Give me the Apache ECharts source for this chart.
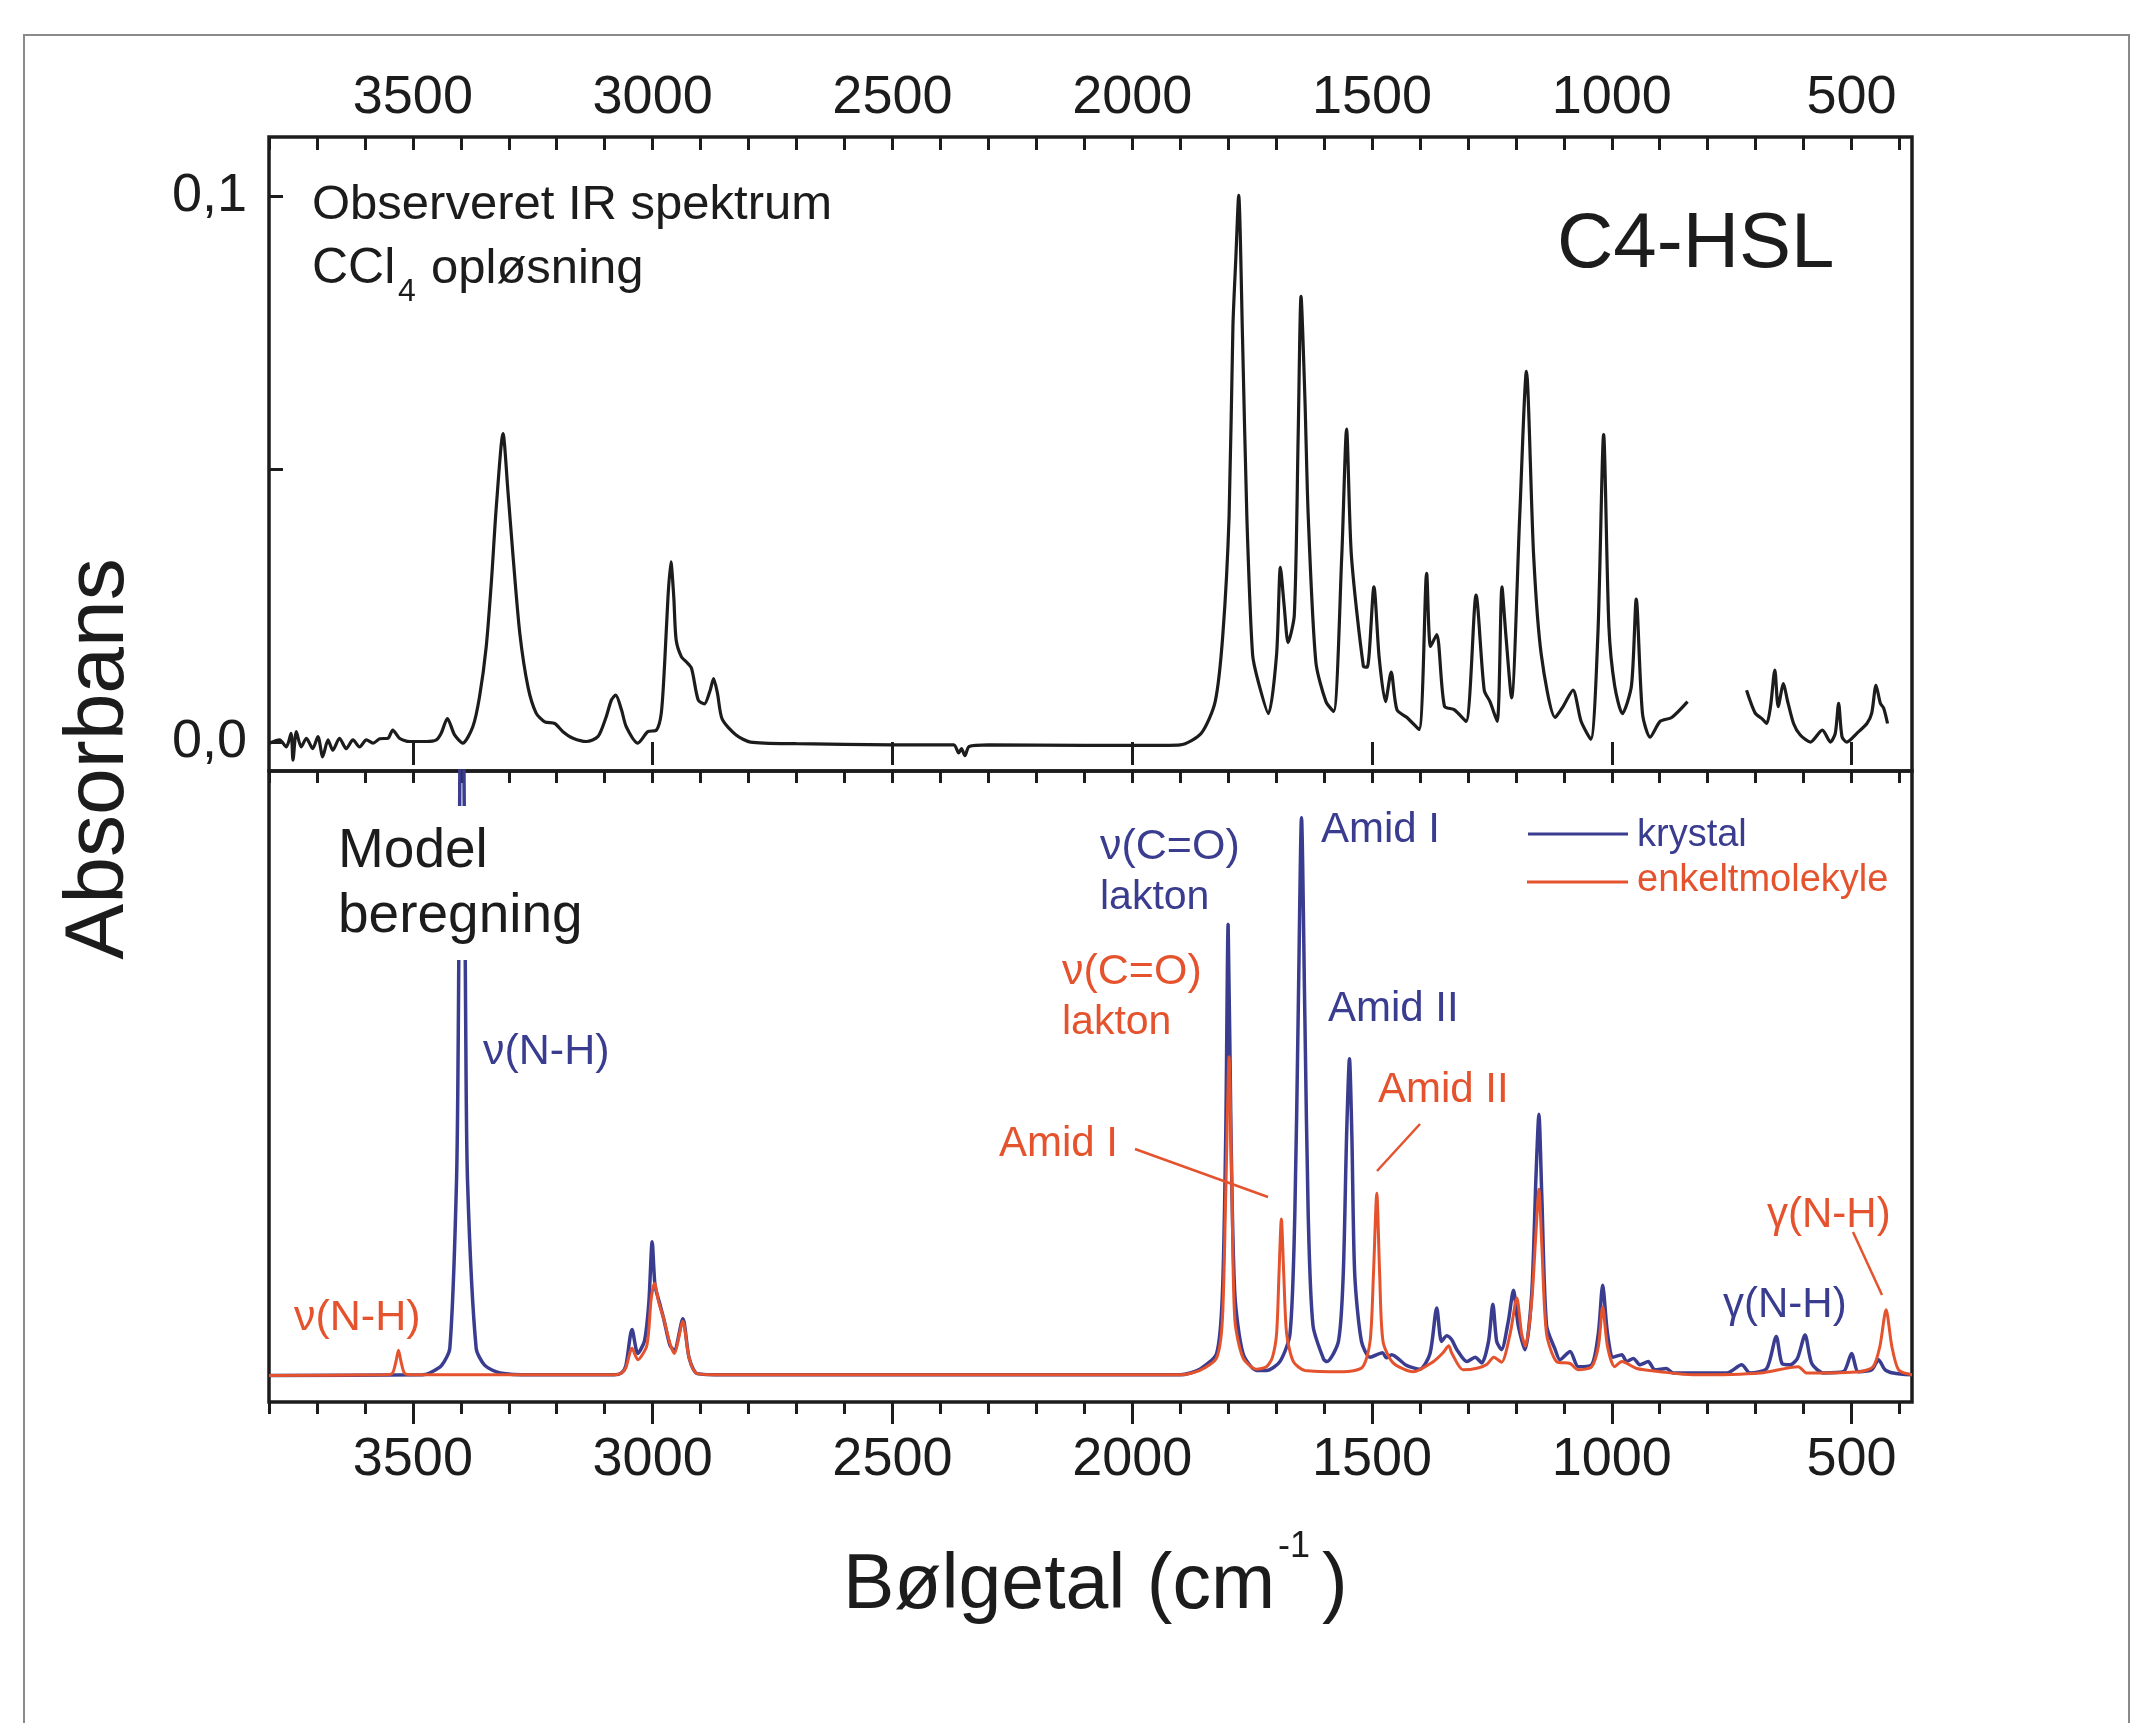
<!DOCTYPE html>
<html>
<head>
<meta charset="utf-8">
<title>C4-HSL IR spektrum</title>
<style>
body{
    margin:0;
    background:#fff;
}
.chart-main{
    width:2135px;
    height:1723px;
}
</style>
</head>
<body>
<div id="main" class="chart-main"></div>
<script src="https://cdn.jsdelivr.net/npm/echarts@6.0.0/dist/echarts.min.js"></script>
<script>
    // tick labels on the wavenumber axes
    var tickLabels = [3500, 3000, 2500, 2000, 1500, 1000, 500];
    var absTicks = [0, 0.05, 0.1];
    var absLabels = [0, 0.1];

    // observed spectrum (CCl4), [wavenumber, absorbance], part before the gap
    var observedHigh = [
        [3799,-0.0002],[3778,0.0004],[3764,-0.0009],[3754,0.0016],[3750,-0.0033],[3743,0.0019],[3733,-0.0009],
        [3722,0.0007],[3709,-0.0012],[3698,0.001],[3688,-0.0027],[3677,0.0004],[3667,-0.0015],[3653,0.0007],
        [3639,-0.0012],[3625,0.0004],[3611,-0.0009],[3597,0.0004],[3583,-0.0002],[3569,0.0006],[3552,0.0007],
        [3542,0.0022],[3528,0.0007],[3507,0.0001],[3472,0.0001],[3451,0.0004],[3441,0.0016],[3428,0.0043],
        [3413,0.0013],[3396,-0.0002],[3375,0.0028],[3361,0.0083],[3347,0.0175],[3336,0.0297],[3326,0.0431],
        [3312,0.0565],[3302,0.0462],[3291,0.0339],[3277,0.0199],[3260,0.0101],[3243,0.0053],[3225,0.0037],
        [3204,0.0034],[3187,0.0019],[3166,0.0007],[3138,0.0001],[3114,0.001],[3097,0.0046],[3086,0.0077],
        [3077,0.0086],[3065,0.0059],[3055,0.0028],[3031,-0.0002],[3010,0.0019],[2992,0.0022],[2982,0.0053],
        [2975,0.0144],[2968,0.0266],[2962,0.033],[2956,0.0266],[2951,0.0187],[2940,0.0156],[2930,0.0147],
        [2919,0.0135],[2905,0.0077],[2892,0.007],[2880,0.0095],[2873,0.0116],[2865,0.009],[2855,0.0042],
        [2826,0.0013],[2796,0.0],[2700,-0.0003],[2500,-0.0005],[2372,-0.0005],[2362,-0.002],[2356,-0.0012],
        [2349,-0.0025],[2340,-0.0008],[2300,-0.0005],[2100,-0.0006],[1963,-0.0006],[1900,-0.0005],
        [1856,0.0016],[1827,0.0074],[1811,0.0197],[1798,0.0414],[1790,0.0762],[1784,0.0885],[1778,0.1001],
        [1770,0.074],[1761,0.0414],[1749,0.016],[1737,0.011],[1716,0.0052],[1699,0.016],[1691,0.032],
        [1683,0.0248],[1675,0.0182],[1662,0.0233],[1654,0.0559],[1648,0.0816],[1640,0.0632],[1633,0.0414],
        [1617,0.0146],[1596,0.0074],[1580,0.0056],[1563,0.0342],[1553,0.0573],[1543,0.0342],[1518,0.0139],
        [1510,0.0137],[1496,0.0284],[1485,0.0154],[1472,0.0074],[1460,0.0128],[1448,0.0059],[1427,0.0045],
        [1402,0.0023],[1386,0.0309],[1378,0.0175],[1365,0.0197],[1349,0.0066],[1328,0.0059],[1304,0.0038],
        [1283,0.0269],[1266,0.0095],[1254,0.0074],[1239,0.0038],[1229,0.0284],[1221,0.0197],[1209,0.0081],
        [1192,0.0414],[1178,0.0679],[1163,0.0342],[1147,0.016],[1118,0.0045],[1101,0.0066],[1081,0.0095],
        [1064,0.0038],[1044,0.0005],[1029,0.0197],[1017,0.0563],[1006,0.0211],[994,0.0103],[978,0.0052],
        [959,0.0103],[949,0.0262],[936,0.0052],[920,0.0009],[899,0.0038],[875,0.0045],[842,0.0074]
    ];
    // observed spectrum after the gap
    var observedLow = [
        [719,0.0095],[701,0.0053],[687,0.0043],[677,0.0034],[669,0.0065],[660,0.0132],[653,0.0065],
        [642,0.0107],[634,0.0077],[621,0.0034],[607,0.0013],[586,0.0],[561,0.0022],[544,0.0],[534,0.0016],
        [527,0.0071],[520,0.001],[510,0.0],[489,0.0016],[468,0.0034],[458,0.0053],[449,0.0104],[440,0.0071],
        [433,0.0062],[425,0.0034]
    ];

    // model calculation, crystal (relative intensity)
    var krystal = [
        [3800,4.2],[3480,4.3],[3465,4.6],[3440,5.8],[3423,8.5],[3409,35],[3405,61.8],[3398,140],[3390,61.8],
        [3386,35],[3368,8.5],[3350,5.8],[3318,4.6],[3250,4.3],[3080,4.3],[3065,4.6],[3056,5.7],[3043,11.5],
        [3031,7.7],[3017,9.7],[3008,15.7],[3001,25.4],[2995,18.4],[2986,15.8],[2977,13.2],[2964,9],[2955,8.2],
        [2937,13.2],[2924,7],[2907,4.5],[2850,4.3],[1900,4.3],[1859,5.2],[1824,7.7],[1812,17.1],[1805,42.2],
        [1800,75.7],[1794,42.2],[1786,17.1],[1769,7.7],[1741,5.0],[1720,5.0],[1692,6.4],[1671,10.8],
        [1661,29.6],[1654,61],[1647,92.6],[1640,61],[1633,29.6],[1623,12.1],[1601,6.8],[1594,6.4],[1570,9.6],
        [1560,20.2],[1553,42.2],[1547,54.4],[1542,42.2],[1536,20.2],[1522,9.6],[1504,7.1],[1478,7.8],
        [1470,7.0],[1459,7.5],[1428,5.8],[1400,5.2],[1379,7.7],[1365,14.9],[1355,9.6],[1344,10.5],[1334,9.9],
        [1323,8.3],[1302,6.4],[1285,7.1],[1271,6.2],[1257,9.6],[1248,15.5],[1240,9.6],[1230,8.3],[1216,12.7],
        [1205,17.7],[1195,12.1],[1181,8.3],[1167,17.1],[1158,35.9],[1152,45.6],[1146,32.8],[1136,12.1],
        [1118,8.3],[1108,6.7],[1087,8.0],[1070,5.6],[1042,5.9],[1028,10.9],[1019,18.5],[1009,10.9],[997,7.1],
        [979,7.5],[969,6.4],[955,6.9],[941,5.9],[924,6.4],[910,5.1],[886,5.3],[872,4.6],[760,4.6],[729,5.9],
        [712,4.6],[677,5.3],[657,10.4],[645,6.1],[628,5.9],[613,6.9],[597,10.6],[583,6.1],[559,4.6],[517,4.8],
        [500,7.7],[486,4.8],[458,5.1],[444,6.7],[430,5.1],[413,4.6],[374,4.3]
    ];

    // model calculation, single molecule
    var enkeltmolekyle = [
        [3800,4.2],[3560,4.3],[3543,4.5],[3535,6.5],[3530,8.2],[3525,6.5],[3517,4.5],[3500,4.3],[3080,4.3],
        [3065,4.6],[3056,5.4],[3043,8.5],[3031,6.7],[3012,9],[3003,16.4],[2996,18.8],[2987,15.7],[2977,13.2],
        [2964,9.3],[2955,7.7],[2937,12.8],[2924,7],[2907,4.5],[2850,4.3],[1900,4.3],[1859,5.0],[1824,7.0],
        [1812,13],[1805,33],[1798,54.7],[1792,33],[1786,13],[1769,7],[1741,5.2],[1720,5.6],[1708,7],
        [1699,10.8],[1694,20.2],[1689,29],[1684,20.2],[1678,10.8],[1664,6.4],[1640,5.0],[1560,4.8],[1520,5.5],
        [1504,9.6],[1497,20.2],[1490,33.1],[1484,20.2],[1477,9.6],[1456,6.2],[1414,4.8],[1372,6.4],[1352,7.8],
        [1340,8.9],[1334,7.8],[1310,5.1],[1279,5.4],[1260,6.0],[1246,7.1],[1230,6.3],[1212,10.8],[1198,16.5],
        [1188,10.8],[1180,8.8],[1167,16],[1158,27],[1152,33.7],[1146,25],[1136,10.8],[1115,6.4],[1087,6.1],
        [1070,5.1],[1042,5.6],[1028,8.8],[1019,15.1],[1009,8.8],[994,5.6],[979,6.4],[948,5.3],[900,4.8],
        [830,4.3],[690,4.6],[611,5.6],[594,4.6],[483,4.8],[455,5.6],[441,8.8],[428,14.6],[416,8.8],[402,5.1],
        [374,4.3]
    ];

    var BLUE = '#3a3d8f';
    var RED = '#e4532d';
    var INK = '#1c1c1c';
    var FONT = '"Liberation Sans", Arial, sans-serif';

    // minor ticks every 100 cm-1
    var minorTicks = [];
    for (var v = 400; v <= 3800; v += 100) minorTicks.push(v);

    /**
     * wavenumber axis; major = long ticks with labels, minor = short ticks only
     */
    function waveAxis(gridIndex, position, inside, ticks, len, labels){
        return {
            type: 'value',
            gridIndex: gridIndex,
            position: position,
            min: 374,
            max: 3800,
            inverse: true,
            axisLine: {show: false},
            splitLine: {show: false},
            axisTick: {
                show: true,
                inside: inside,
                length: len,
                customValues: ticks,
                lineStyle: {color: INK, width: 3}
            },
            axisLabel: {
                show: !!labels,
                customValues: labels || [],
                fontSize: 54,
                fontFamily: FONT,
                color: INK,
                margin: position == 'top' ? 12 : 31,
                formatter: function(value){
                    return String(value);
                }
            }
        };
    }

    function label(text, x, y, color, size, extra){
        var el = {
            type: 'text',
            x: x,
            y: y,
            z: 50,
            style: {
                text: text,
                fill: color,
                fontSize: size,
                fontFamily: FONT,
                textAlign: 'left',
                textVerticalAlign: 'middle',
                align: 'left',
                verticalAlign: 'middle'
            }
        };
        if (extra) {
            for (var k in extra) el[k] = extra[k];
        }
        return el;
    }

    function leader(x1, y1, x2, y2){
        return {
            type: 'line',
            z: 50,
            shape: {x1: x1, y1: y1, x2: x2, y2: y2},
            style: {stroke: RED, lineWidth: 2.5}
        };
    }

    var absTitle = label('Absorbans', 100, 759, INK, 84, {rotation: Math.PI / 2});
    absTitle.style.textAlign = 'center';
    absTitle.style.align = 'center';

    var graphics = [
        // outer frame of the figure
        {type: 'rect', z: 1, shape: {x: 24, y: 35, width: 2105, height: 1760},
            style: {fill: 'none', stroke: '#8a8a8a', lineWidth: 2}},
        label('Observeret IR spektrum', 312, 205, INK, 49),
        label('CCl', 312, 269, INK, 50),
        label('4', 398, 292, INK, 32),
        label('opløsning', 431, 269, INK, 49),
        label('C4-HSL', 1557, 245, INK, 78),
        // white patch behind "Model beregning" hides the top of the clipped peak (own layer on top)
        {type: 'rect', zlevel: 1, z: 90, shape: {x: 328, y: 806, width: 270, height: 154},
            style: {fill: '#fff'}},
        label('Model', 338, 852, INK, 55, {zlevel: 1, z: 100}),
        label('beregning', 338, 917, INK, 55, {zlevel: 1, z: 100}),
        label('ν(N-H)', 483, 1052, BLUE, 43),
        label('ν(N-H)', 294, 1318, RED, 43),
        label('ν(C=O)', 1100, 847, BLUE, 43),
        label('lakton', 1100, 898, BLUE, 41),
        label('ν(C=O)', 1062, 972, RED, 43),
        label('lakton', 1062, 1023, RED, 41),
        label('Amid I', 999, 1144, RED, 42),
        leader(1135, 1149, 1268, 1197),
        label('Amid I', 1321, 830, BLUE, 42),
        label('Amid II', 1328, 1009, BLUE, 42),
        label('Amid II', 1378, 1090, RED, 42),
        leader(1420, 1124, 1377, 1171),
        label('γ(N-H)', 1723, 1305, BLUE, 42),
        label('γ(N-H)', 1767, 1215, RED, 42),
        leader(1853, 1232, 1882, 1295),
        // legend
        {type: 'line', z: 50, shape: {x1: 1528, y1: 834, x2: 1628, y2: 834}, style: {stroke: BLUE, lineWidth: 3}},
        label('krystal', 1637, 836, BLUE, 38),
        {type: 'line', z: 50, shape: {x1: 1527, y1: 882, x2: 1628, y2: 882}, style: {stroke: RED, lineWidth: 3}},
        label('enkeltmolekyle', 1637, 881, RED, 38),
        // axis titles
        absTitle,
        label('Bølgetal (cm', 843, 1587, INK, 77),
        label('-1', 1278, 1547, INK, 36),
        label(')', 1322, 1587, INK, 77)
    ];

    var chart = echarts.init(document.getElementById('main'));
    var option = {
        animation: false,
        backgroundColor: '#fff',
        textStyle: {fontFamily: FONT},
        grid: [
            {left: 269, right: 223, top: 137, height: 634, show: true, borderColor: INK, borderWidth: 3.5},
            {left: 269, right: 223, top: 771, height: 631, show: true, borderColor: INK, borderWidth: 3.5}
        ],
        xAxis: [
            waveAxis(0, 'top', true, tickLabels, 23, tickLabels),
            waveAxis(0, 'top', true, minorTicks, 13),
            waveAxis(1, 'top', true, tickLabels, 22),
            waveAxis(1, 'top', true, minorTicks, 12),
            waveAxis(1, 'bottom', false, tickLabels, 22, tickLabels),
            waveAxis(1, 'bottom', false, minorTicks, 12)
        ],
        yAxis: [
            {
                type: 'value',
                gridIndex: 0,
                min: -0.0053,
                max: 0.1108,
                axisLine: {show: false},
                splitLine: {show: false},
                axisTick: {show: true, inside: true, length: 14, customValues: absTicks,
                    lineStyle: {color: INK, width: 3}},
                axisLabel: {
                    customValues: absLabels,
                    fontSize: 54,
                    fontFamily: FONT,
                    color: INK,
                    margin: 22,
                    formatter: function(value){
                        return value.toFixed(1).replace('.', ',');
                    }
                }
            },
            {type: 'value', gridIndex: 1, min: 0, max: 100, show: false}
        ],
        graphic: graphics,
        series: [
            {
                name: 'Observeret',
                type: 'line',
                xAxisIndex: 0,
                yAxisIndex: 0,
                data: observedHigh,
                showSymbol: false,
                smooth: 0.25,
                lineStyle: {color: INK, width: 3.2}
            },
            {
                name: 'Observeret 2',
                type: 'line',
                xAxisIndex: 0,
                yAxisIndex: 0,
                data: observedLow,
                showSymbol: false,
                smooth: 0.25,
                lineStyle: {color: INK, width: 3.2}
            },
            {
                name: 'krystal',
                type: 'line',
                xAxisIndex: 4,
                yAxisIndex: 1,
                data: krystal,
                showSymbol: false,
                smooth: 0.25,
                lineStyle: {color: BLUE, width: 3.5}
            },
            {
                name: 'enkeltmolekyle',
                type: 'line',
                xAxisIndex: 4,
                yAxisIndex: 1,
                data: enkeltmolekyle,
                showSymbol: false,
                smooth: 0.25,
                lineStyle: {color: RED, width: 3}
            }
        ]
    };
    chart.setOption(option);
</script>
</body>
</html>
